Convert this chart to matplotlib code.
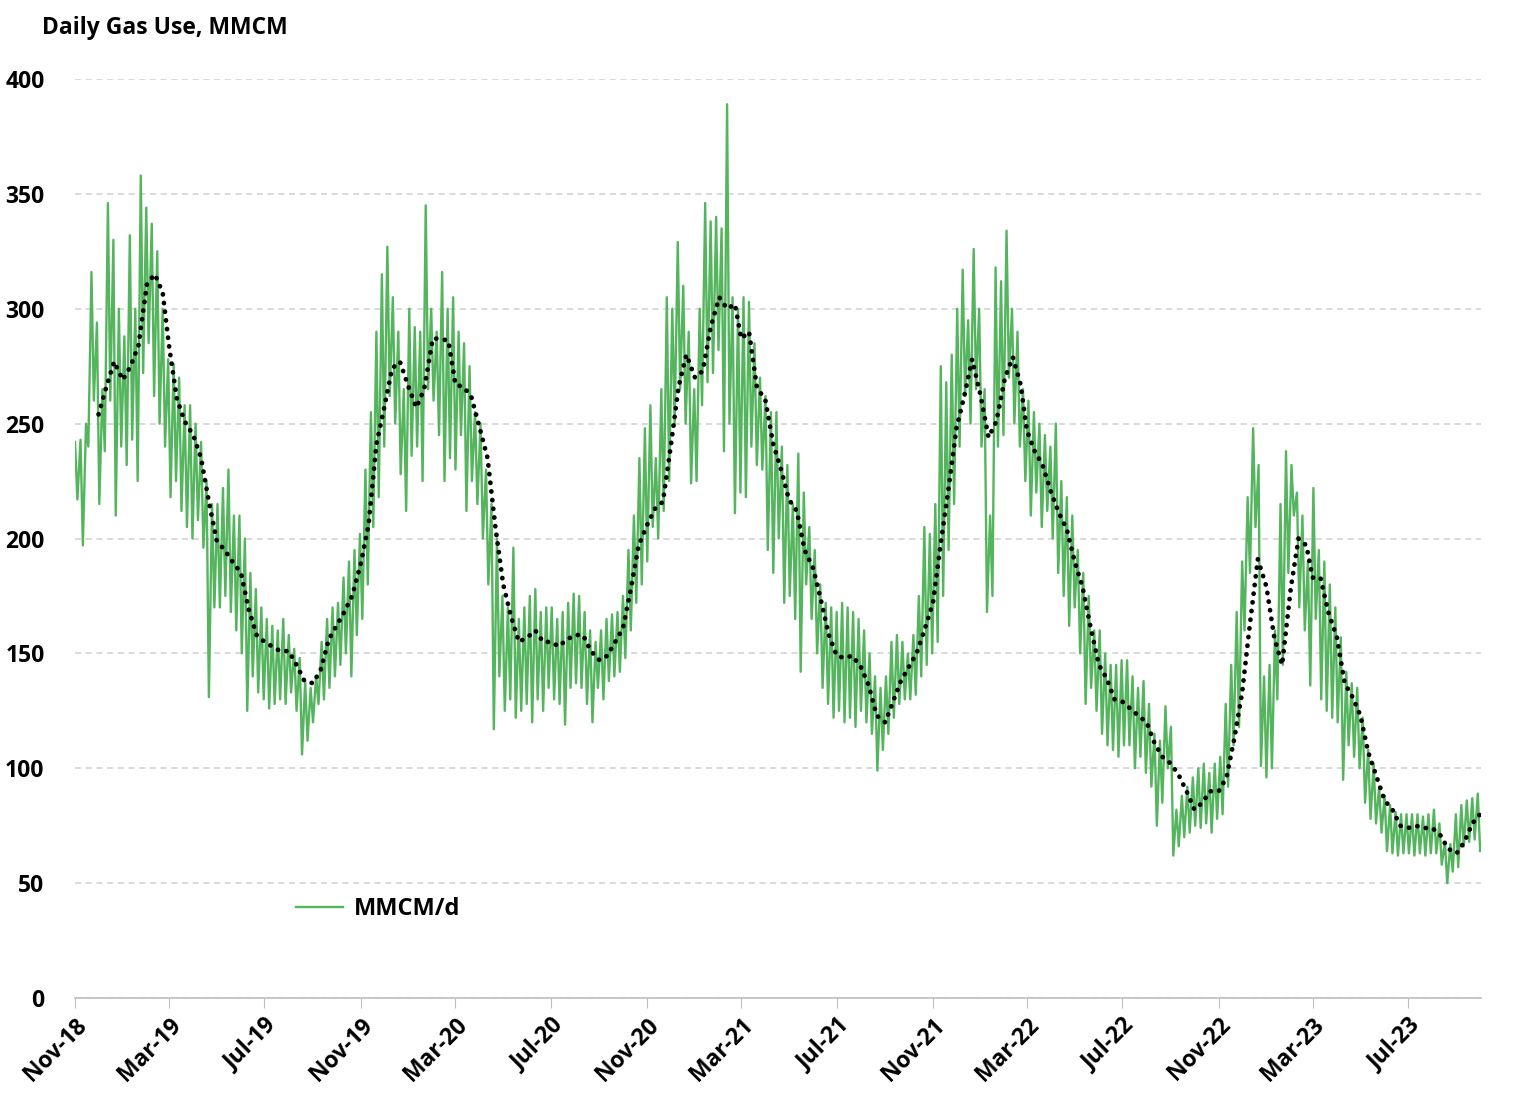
import numpy as np
import pandas as pd
import matplotlib
matplotlib.use("Agg")
from matplotlib import pyplot as plt
import matplotlib.dates as mdates

plt.rcParams["font.family"] = ["Open Sans", "Liberation Sans", "DejaVu Sans"]
plt.rcParams["font.weight"] = "bold"

# weekly mid-week peaks (Thursdays from 2018-11-01), MMCM/d
weekday_highs = [
    242, 243, 250, 316, 294,          # Nov-18
    265, 346, 330, 300,               # Dec-18
    288, 332, 300, 358, 344,          # Jan-19
    337, 325, 300, 278,               # Feb-19
    276, 270, 258, 258,               # Mar-19
    250, 242, 225, 215,               # Apr-19
    215, 222, 230, 210, 210,          # May-19
    200, 185, 178, 170,               # Jun-19
    165, 162, 160, 165,               # Jul-19
    158, 152, 148, 138, 135,          # Aug-19
    140, 155, 165, 170,               # Sep-19
    172, 183, 190, 195, 202,          # Oct-19
    230, 255, 290, 315,               # Nov-19
    327, 305, 290, 265,               # Dec-19
    300, 292, 290, 345, 300,          # Jan-20
    290, 316, 300, 305,               # Feb-20
    290, 285, 275, 255,               # Mar-20
    250, 230, 215, 200, 175,          # Apr-20
    170, 196, 165, 170,               # May-20
    175, 178, 168, 170,               # Jun-20
    170, 165, 168, 172, 176,          # Jul-20
    175, 168, 160, 155,               # Aug-20
    160, 165, 167, 168,               # Sep-20
    175, 195, 210, 235, 248,          # Oct-20
    258, 235, 265, 305,               # Nov-20
    300, 329, 310, 290, 265,          # Dec-20
    300, 346, 338, 340,               # Jan-21
    335, 389, 305, 300,               # Feb-21
    305, 303, 285, 270,               # Mar-21
    262, 255, 255, 240, 232,          # Apr-21
    215, 237, 220, 205,               # May-21
    195, 180, 172, 170,               # Jun-21
    168, 172, 170, 168, 165,          # Jul-21
    160, 150, 140, 135,               # Aug-21
    140, 155, 158, 155, 150,          # Sep-21
    158, 175, 205, 202,               # Oct-21
    215, 275, 268, 280,               # Nov-21
    300, 317, 295, 326, 300,          # Dec-21
    265, 210, 318, 312,               # Jan-22
    334, 300, 290, 265,               # Feb-22
    260, 255, 250, 245, 240,          # Mar-22
    250, 225, 218, 210,               # Apr-22
    195, 185, 175, 160,               # May-22
    160, 150, 145, 145, 147,          # Jun-22
    147, 140, 135, 138,               # Jul-22
    128, 115, 112, 127,               # Aug-22
    118, 82, 88, 92, 96,              # Sep-22
    100, 102, 98, 102,                # Oct-22
    105, 128, 145, 168,               # Nov-22
    190, 218, 248, 232, 140,          # Dec-22
    145, 160, 215, 238,               # Jan-23
    232, 220, 210, 190,               # Feb-23
    222, 195, 190, 180, 170,          # Mar-23
    157, 142, 137, 135,               # Apr-23
    122, 108, 102, 92,                # May-23
    88, 84, 81, 80, 80,               # Jun-23
    80, 80, 79, 80,                   # Jul-23
    82, 76, 68, 67, 80,               # Aug-23
    84, 86, 87, 89,                   # Sep-23
]

# weekend troughs (Sundays from 2018-11-04), MMCM/d
weekend_lows = [
    217, 197, 240, 260, 215,          # Nov-18
    238, 260, 210, 240,               # Dec-18
    232, 243, 225, 272, 285,          # Jan-19
    262, 250, 240, 218,               # Feb-19
    225, 212, 205, 200,               # Mar-19
    208, 196, 131, 170,               # Apr-19
    170, 175, 168, 160, 150,          # May-19
    125, 140, 133, 130,               # Jun-19
    126, 128, 130, 128,               # Jul-19
    133, 125, 106, 112, 120,          # Aug-19
    128, 130, 135, 140,               # Sep-19
    145, 150, 140, 158, 165,          # Oct-19
    180, 205, 218, 240,               # Nov-19
    262, 250, 228, 212,               # Dec-19
    236, 240, 225, 265, 260,          # Jan-20
    245, 225, 235, 230,               # Feb-20
    245, 212, 225, 215,               # Mar-20
    200, 180, 117, 140, 125,          # Apr-20
    130, 122, 125, 128,               # May-20
    120, 130, 125, 135,               # Jun-20
    130, 128, 119, 135, 137,          # Jul-20
    135, 128, 120, 135,               # Aug-20
    130, 138, 140, 142,               # Sep-20
    148, 160, 172, 180, 190,          # Oct-20
    205, 200, 212, 225,               # Nov-20
    250, 265, 250, 224, 225,          # Dec-20
    258, 268, 272, 282,               # Jan-21
    238, 250, 211, 220,               # Feb-21
    218, 240, 232, 230,               # Mar-21
    195, 185, 200, 172, 175,          # Apr-21
    165, 142, 180, 165,               # May-21
    150, 135, 128, 122,               # Jun-21
    125, 120, 122, 118, 125,          # Jul-21
    120, 115, 99, 108,                # Aug-21
    115, 122, 128, 130, 130,          # Sep-21
    132, 140, 145, 150,               # Oct-21
    155, 175, 195, 215,               # Nov-21
    240, 262, 250, 265, 240,          # Dec-21
    168, 175, 240, 245,               # Jan-22
    270, 250, 240, 225,               # Feb-22
    210, 220, 205, 212, 200,          # Mar-22
    185, 175, 162, 170,               # Apr-22
    150, 128, 135, 125,               # May-22
    115, 110, 108, 105, 110,          # Jun-22
    110, 100, 105, 98,                # Jul-22
    92, 75, 85, 100,                  # Aug-22
    62, 66, 70, 72, 75,               # Sep-22
    74, 76, 72, 78,                   # Oct-22
    80, 92, 110, 118,                 # Nov-22
    160, 185, 205, 101, 96,           # Dec-22
    100, 130, 145, 185,               # Jan-23
    210, 170, 160, 136,               # Feb-23
    165, 130, 125, 122, 120,          # Mar-23
    95, 110, 105, 100,                # Apr-23
    85, 78, 76, 72,                   # May-23
    64, 63, 62, 63, 63,               # Jun-23
    62, 63, 62, 63,                   # Jul-23
    63, 58, 50, 55, 57,               # Aug-23
    66, 68, 69, 64,                   # Sep-23
]

# 30-day moving average, read on the 1st, 11th and 21st of each month
avg_dates = pd.date_range("2018-12-01", "2023-10-01", freq="MS")
avg_values = [
    254, 266, 277,   269, 275, 284,   311, 315, 307,   284, 261, 251,
    245, 235, 216,   199, 195, 190,   185, 169, 158,   155, 153, 151,
    151, 145, 138,   137, 143, 156,   162, 168, 175,   189, 206, 241,
    257, 274, 277,   266, 257, 265,   287, 287, 286,   267, 266, 262,
    248, 235, 205,   180, 166, 155,   157, 160, 155,   155, 153, 156,
    158, 158, 151,   147, 149, 155,   161, 178, 197,   206, 213, 216,
    240, 266, 280,   270, 273, 292,   305, 300, 302,   287, 290, 266,
    260, 241, 230,   217, 212, 195,   187, 173, 158,   149, 148, 149,
    144, 136, 123,   120, 129, 138,   144, 150, 160,   172, 198, 222,
    248, 262, 278,   262, 244, 251,   270, 279, 267,   247, 238, 232,
    220, 211, 204,   190, 179, 162,   145, 139, 130,   129, 126, 123,
    120, 111, 105,   102, 97, 90,     82, 85, 90,      90, 96, 113,
    133, 163, 191,   179, 157, 145,   178, 200, 197,   183, 183, 168,
    157, 137, 131,   123, 107, 97,    86, 82, 75,      74, 75, 74,
    74, 71, 65,      63, 68, 76,      80,
]

y_ticks = [0, 50, 100, 150, 200, 250, 300, 350, 400]

# build the daily-gas path: Thursday peak, then Sunday trough, week by week
thu = pd.date_range("2018-11-01", periods=len(weekday_highs), freq="7D")
sun = pd.date_range("2018-11-04", periods=len(weekend_lows), freq="7D")
gas = pd.concat([pd.Series(weekday_highs, index=thu),
                 pd.Series(weekend_lows, index=sun)]).sort_index()

ma_idx = []
for m in avg_dates[:-1]:
    ma_idx += [m, m + pd.Timedelta(days=10), m + pd.Timedelta(days=20)]
ma_idx.append(avg_dates[-1])
ma = pd.Series(avg_values, index=ma_idx[:len(avg_values)])

fig = plt.figure(figsize=(15.22, 11.06), dpi=100)
ax = fig.add_axes([0.0493, 0.0976, 0.9237, 0.831])

ax.plot(gas.index, gas.values, color="#55b55e", lw=1.7, label="MMCM/d", zorder=3)
ax.plot(ma.index, ma.values, color="black", lw=3.4, ls=(0, (0.05, 1.8)),
        dash_capstyle="round", zorder=4)

ax.set_ylim(0, 400)
ax.set_yticks(y_ticks)
ax.set_xlim(pd.Timestamp("2018-11-01"), pd.Timestamp("2023-10-02"))
ax.xaxis.set_major_locator(mdates.MonthLocator(bymonth=[3, 7, 11], bymonthday=1))
ax.xaxis.set_major_formatter(mdates.DateFormatter("%b-%y"))

ax.grid(axis="y", color="#cfcfcf", ls=(0, (4, 3)), lw=1.1)
ax.set_axisbelow(True)
for s in ["left", "right", "top"]:
    ax.spines[s].set_visible(False)
ax.spines["bottom"].set_color("#bfbfbf")
ax.spines["bottom"].set_linewidth(1.2)

ax.tick_params(axis="y", length=0, labelsize=16.5, pad=22)
ax.tick_params(axis="x", length=7, color="#bfbfbf", labelsize=16.5, pad=4)
for lab in ax.get_yticklabels():
    lab.set_fontweight("bold")
for lab in ax.get_xticklabels():
    lab.set_rotation(45)
    lab.set_ha("right")
    lab.set_rotation_mode("anchor")
    lab.set_fontweight("bold")

fig.text(0.0276, 0.975, "Daily Gas Use, MMCM", fontsize=16.5, fontweight="bold",
         va="center", ha="left")

leg = ax.legend(loc="center left", bbox_to_anchor=(0.142, 0.097), frameon=False,
                fontsize=17, handlelength=2.0, handletextpad=0.45)
for t in leg.get_texts():
    t.set_fontweight("bold")

fig.savefig("out.png", dpi=100)
